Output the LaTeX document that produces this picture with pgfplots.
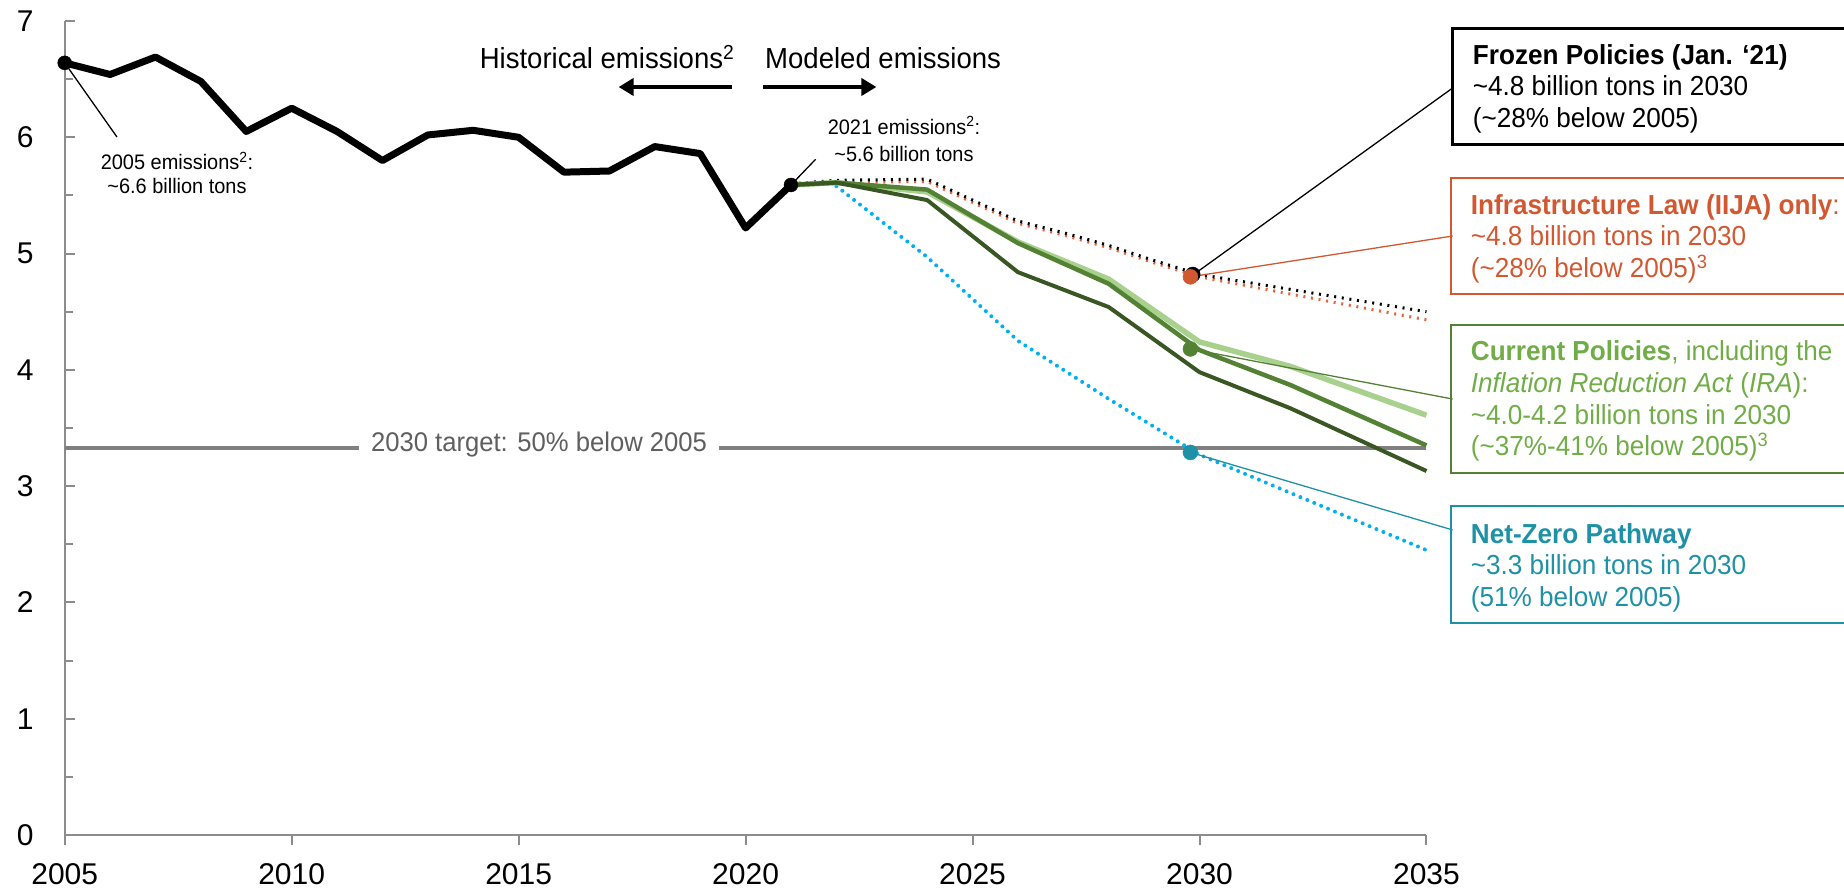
\documentclass[border=0pt]{standalone}
\usepackage{fontspec}
\setmainfont{Liberation Sans}[FakeStretch=0.95]
\newfontfamily\tickfont{Liberation Sans}
\usepackage{pgfplots}
\pgfplotsset{compat=1.18}
\usepackage{pgfplotstable}
\usetikzlibrary{arrows.meta}

\definecolor{axisgray}{RGB}{140,140,140}
\definecolor{targetline}{RGB}{128,128,128}
\definecolor{targettext}{RGB}{95,95,95}
\definecolor{lightgreen}{RGB}{169,209,142}
\definecolor{midgreen}{RGB}{84,130,53}
\definecolor{darkgreen}{RGB}{56,87,35}
\definecolor{currenttext}{RGB}{112,173,71}
\definecolor{nzdots}{RGB}{0,176,240}
\definecolor{nzteal}{RGB}{31,145,166}
\definecolor{iijadots}{RGB}{233,99,57}
\definecolor{iijaorange}{RGB}{209,88,48}

% Net emissions, billion tons CO2e
\pgfplotstableread{
year emis
2005 6.64
2006 6.54
2007 6.69
2008 6.48
2009 6.05
2010 6.25
2011 6.05
2012 5.80
2013 6.02
2014 6.06
2015 6.00
2016 5.70
2017 5.71
2018 5.92
2019 5.86
2020 5.22
2021 5.59
}\historical

% Current policies: high, central and low cases
\pgfplotstableread{
year light mid dark
2021 5.59 5.59 5.59
2022 5.61 5.61 5.61
2024 5.53 5.55 5.46
2026 5.10 5.09 4.84
2028 4.78 4.74 4.54
2030 4.24 4.17 3.98
2032 4.03 3.87 3.67
2035 3.61 3.35 3.13
}\current

% Frozen policies and infrastructure law only
\pgfplotstableread{
year frozen iija
2021 5.60 5.59
2022 5.63 5.61
2024 5.64 5.62
2025 5.46 5.44
2026 5.28 5.26
2027 5.18 5.16
2028 5.07 5.05
2029 4.94 4.92
2030 4.82 4.80
2035 4.50 4.43
}\frozen

% Net-zero pathway
\pgfplotstableread{
year nz
2022 5.58
2024 4.97
2026 4.25
2028 3.75
2030 3.27
2035 2.45
}\netzero

\newcommand{\boxfont}{\fontsize{27.5}{31.6}\selectfont}
\newcommand{\notefont}{\fontsize{21}{24}\selectfont}

\begin{document}
\begin{tikzpicture}
\useasboundingbox (-64.7pt,-54pt) rectangle (1779.3pt,835pt);
\begin{axis}[
  at={(0pt,0pt)}, anchor=south west,
  scale only axis, width=1361.8pt, height=814pt,
  xmin=2005, xmax=2035, ymin=0, ymax=7,
  axis lines*=left,
  axis line style={draw=axisgray, line width=2pt},
  xtick={2005,2010,...,2035},
  ytick={0,1,...,7},
  minor ytick={0.5,1.5,...,6.5},
  xtick align=outside, ytick align=inside,
  major tick length=10pt, minor tick length=8pt,
  tick style={draw=axisgray, line width=2pt},
  /pgf/number format/1000 sep={},
  /pgf/number format/assume math mode=true,
  xticklabel style={font=\tickfont\fontsize{30}{30}\selectfont, anchor=north, inner sep=0pt, yshift=-18pt},
  yticklabel style={font=\tickfont\fontsize{30}{30}\selectfont, anchor=east, inner sep=0pt, xshift=-31pt},
  clip=false,
]
% 2030 target
\addplot[targetline, line width=3.5pt] coordinates {(2005,3.33) (2035,3.33)};
\node[fill=white, inner xsep=12pt, inner ysep=3pt, text=targettext,
      font=\fontsize{27}{27}\selectfont, text height=0.72em, text depth=0pt]
      at (axis cs:2015.45,3.33) {2030 target: 50\% below 2005};

% scenarios
\addplot[nzdots, line width=4pt, line cap=round, dash pattern=on 0pt off 7.5pt] table[x=year, y=nz] {\netzero};
\addplot[iijadots, line width=3pt, dash pattern=on 2pt off 5.7pt] table[x=year, y=iija] {\frozen};
\addplot[black, line width=3pt, dash pattern=on 2pt off 5.7pt] table[x=year, y=frozen] {\frozen};
\addplot[lightgreen, line width=5.5pt, line join=round] table[x=year, y=light] {\current};
\addplot[midgreen, line width=4.5pt, line join=round] table[x=year, y=mid] {\current};
\addplot[darkgreen, line width=4pt, line join=round] table[x=year, y=dark] {\current};

% history
\addplot[black, line width=7pt, line join=round] table[x=year, y=emis] {\historical};

% leader lines
\draw[black, line width=1.3pt] (axis cs:2005,6.64) -- (axis cs:2006.152,6.002);
\draw[black, line width=1.3pt] (axis cs:2021,5.59) -- (axis cs:2021.544,5.811);
\draw[black, line width=1.3pt] (axis cs:2029.8,4.80) -- (axis cs:2035.577,6.424);
\draw[iijaorange, line width=1.3pt] (axis cs:2029.8,4.80) -- (axis cs:2035.577,5.151);
\draw[midgreen, line width=1.3pt] (axis cs:2029.8,4.18) -- (axis cs:2035.577,3.749);
\draw[nzteal, line width=1.3pt] (axis cs:2029.8,3.29) -- (axis cs:2035.577,2.623);

% highlighted points
\addplot[only marks, mark=*, mark size=7pt, black] coordinates {(2005,6.64) (2021,5.59)};
\addplot[only marks, mark=*, mark size=7.5pt, black] coordinates {(2029.85,4.82)};
\addplot[only marks, mark=*, mark size=7.5pt, iijaorange] coordinates {(2029.8,4.80)};
\addplot[only marks, mark=*, mark size=7.5pt, midgreen] coordinates {(2029.8,4.18)};
\addplot[only marks, mark=*, mark size=7.5pt, nzteal] coordinates {(2029.8,3.29)};
\end{axis}

% historical / modeled divider
\node[anchor=base east, inner sep=0pt, font=\fontsize{29}{29}\selectfont] at (669.9pt,766.4pt) {Historical emissions\textsuperscript{2}};
\node[anchor=base west, inner sep=0pt, font=\fontsize{29}{29}\selectfont] at (700.3pt,766.4pt) {Modeled emissions};
\draw[line width=4pt, -{Triangle[length=15pt,width=17pt]}] (667.4pt,748pt) -- (553.9pt,748pt);
\draw[line width=4pt, -{Triangle[length=15pt,width=17pt]}] (698.5pt,748pt) -- (811.7pt,748pt);

% point notes
\node[anchor=base, inner sep=0pt, font=\notefont] at (112.3pt,665pt) {2005 emissions\textsuperscript{2}:};
\node[anchor=base, inner sep=0pt, font=\notefont] at (112.3pt,641pt) {\textasciitilde6.6 billion tons};
\node[anchor=base, inner sep=0pt, font=\notefont] at (839.3pt,700.7pt) {2021 emissions\textsuperscript{2}:};
\node[anchor=base, inner sep=0pt, font=\notefont] at (839.3pt,673.6pt) {\textasciitilde5.6 billion tons};

% scenario boxes
\draw[black, line width=2.5pt] (1781pt,806.5pt) -- (1388pt,806.5pt) -- (1388pt,690.7pt) -- (1781pt,690.7pt);
\begin{scope}[every node/.style={anchor=base west, inner sep=0pt, font=\boxfont}]
\node at (1408pt,770.6pt) {\bfseries Frozen Policies (Jan. ‘21)};
\node at (1408pt,739pt) {\textasciitilde4.8 billion tons in 2030};
\node at (1408pt,707.3pt) {(\textasciitilde28\% below 2005)};
\end{scope}

\draw[iijaorange, line width=2pt] (1781pt,657.1pt) -- (1386pt,657.1pt) -- (1386pt,541.3pt) -- (1781pt,541.3pt);
\begin{scope}[every node/.style={anchor=base west, inner sep=0pt, font=\boxfont, text=iijaorange}]
\node at (1406pt,620.4pt) {\textbf{Infrastructure Law (IIJA) only}:};
\node at (1406pt,589.2pt) {\textasciitilde4.8 billion tons in 2030};
\node at (1406pt,557.5pt) {(\textasciitilde28\% below 2005)\textsuperscript{3}};
\end{scope}

\draw[midgreen, line width=2pt] (1781pt,509.7pt) -- (1386pt,509.7pt) -- (1386pt,361.9pt) -- (1781pt,361.9pt);
\begin{scope}[every node/.style={anchor=base west, inner sep=0pt, font=\boxfont, text=currenttext}]
\node at (1406pt,474.1pt) {\textbf{Current Policies}, including the};
\node at (1406pt,442.5pt) {\textit{Inflation Reduction Act} (\textit{IRA}):};
\node at (1406pt,410.9pt) {\textasciitilde4.0-4.2 billion tons in 2030};
\node at (1406pt,379.3pt) {(\textasciitilde37\%-41\% below 2005)\textsuperscript{3}};
\end{scope}

\draw[nzteal, line width=2pt] (1781pt,329pt) -- (1386pt,329pt) -- (1386pt,212.3pt) -- (1781pt,212.3pt);
\begin{scope}[every node/.style={anchor=base west, inner sep=0pt, font=\boxfont, text=nzteal}]
\node at (1406pt,291.7pt) {\textbf{Net-Zero Pathway}};
\node at (1406pt,260pt) {\textasciitilde3.3 billion tons in 2030};
\node at (1406pt,228.3pt) {(51\% below 2005)};
\end{scope}
\end{tikzpicture}
\end{document}
